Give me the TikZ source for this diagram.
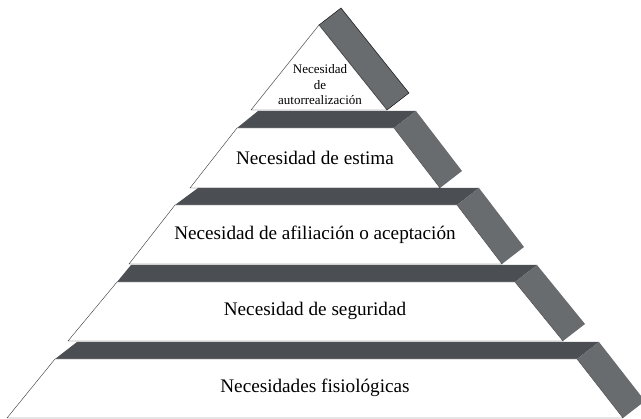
\documentclass[tikz,border=0pt]{standalone}
\usepackage{fontspec}
\setmainfont{Liberation Serif}
\usepackage{tikz}
\definecolor{topgray}{RGB}{75,79,83}
\definecolor{sidegray}{RGB}{104,108,111}
\tikzstyle{band} = [fill=topgray]
\tikzstyle{side} = [fill=sidegray]
\tikzstyle{front} = [fill=white, draw=black!80, line width=0.4pt]
\tikzstyle{label} = [align=center, font=\fontsize{19.2}{21}\selectfont]
\tikzstyle{small} = [align=center, font=\fontsize{13}{15.5}\selectfont, inner sep=0pt]

\begin{document}
\begin{tikzpicture}[x=1pt, y=-1pt]
    \clip (0,0) rectangle (641,419);
    % top
    \draw [side] (319,25) -- (341,8) -- (409,93) -- (387,110) -- cycle;
    \draw [front] (251,110) -- (387,110) -- (319,25) -- cycle;
    \node(self)[small] at (320,85) {Necesidad\\de\\autorrealización};
    % estima
    \fill [band] (237,128) -- (258,111) -- (416,111) -- (394,128) -- cycle;
    \fill [side] (394,128) -- (416,111) -- (462,171) -- (440,188) -- cycle;
    \draw [front] (237,128) -- (394,128) -- (440,188) -- (190,188) -- cycle;
    \node(esteem)[label] at (315,158) {Necesidad de estima};
    % afiliacion
    \fill [band] (175,205) -- (198,188) -- (479,188) -- (457,205) -- cycle;
    \fill [side] (457,205) -- (479,188) -- (524,247) -- (502,264) -- cycle;
    \draw [front] (175,205) -- (457,205) -- (502,264) -- (129,264) -- cycle;
    \node(social)[label] at (315,235) {Necesidad de afiliación o aceptación};
    % seguridad
    \fill [band] (117,282) -- (131,265) -- (537,265) -- (515,282) -- cycle;
    \fill [side] (515,282) -- (537,265) -- (585,324) -- (563,341) -- cycle;
    \draw [front] (117,282) -- (515,282) -- (563,341) -- (68,341) -- cycle;
    \node(safety)[label] at (315,311) {Necesidad de seguridad};
    % fisiologicas
    \fill [band] (55,359) -- (77,342) -- (599,342) -- (577,359) -- cycle;
    \fill [side] (577,359) -- (599,342) -- (645,401) -- (623,418) -- cycle;
    \draw [front] (55,359) -- (577,359) -- (623,418) -- (7,418) -- cycle;
    \node(body)[label] at (315,388) {Necesidades fisiológicas};
\end{tikzpicture}
\end{document}
